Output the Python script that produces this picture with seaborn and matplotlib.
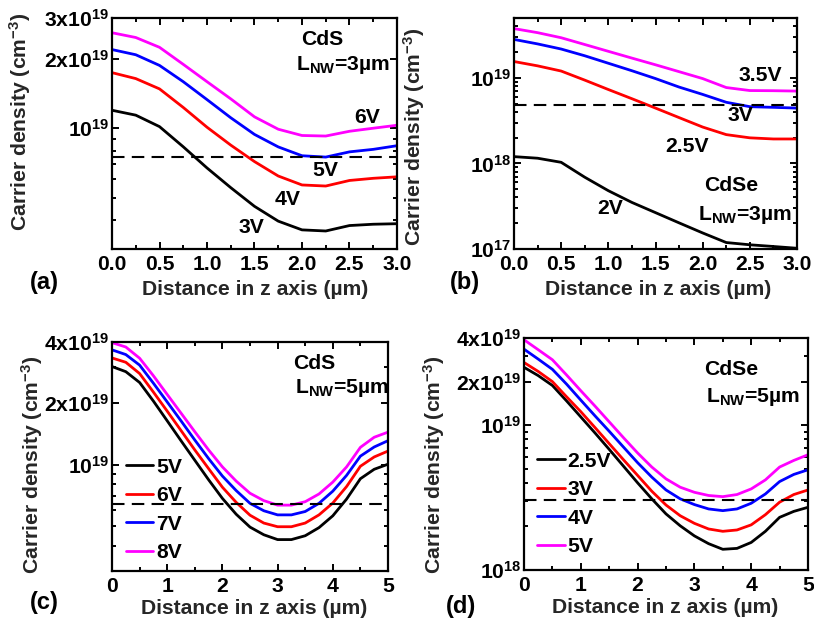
import numpy as np
import pandas as pd
import matplotlib
matplotlib.use("Agg")
import matplotlib.pyplot as plt
import seaborn as sns
from matplotlib.ticker import (FixedLocator, FixedFormatter, LogLocator,
                               NullFormatter, MultipleLocator)

# ---------------------------------------------------------------------------
# Carrier density along the nanowire (values in units of 1e19 cm^-3)
# ---------------------------------------------------------------------------
# (a) CdS, L_NW = 3 um
z_a = [0.0, 0.25, 0.5, 0.75, 1.0, 1.25, 1.5, 1.75, 2.0, 2.25, 2.5, 2.75, 3.0]
bias_a = ["3V", "4V", "5V", "6V"]
n_a_3V = [1.196, 1.139, 1.016, 0.831, 0.673, 0.553, 0.459, 0.396, 0.363, 0.359, 0.379, 0.384, 0.386]
n_a_4V = [1.74, 1.64, 1.48, 1.23, 1.01, 0.845, 0.717, 0.621, 0.568, 0.562, 0.594, 0.607, 0.616]
n_a_5V = [2.19, 2.08, 1.87, 1.59, 1.33, 1.11, 0.94, 0.83, 0.76, 0.75, 0.79, 0.81, 0.84]
n_a_6V = [2.59, 2.47, 2.24, 1.89, 1.59, 1.34, 1.12, 0.99, 0.93, 0.925, 0.97, 1.0, 1.03]
thr_a = 0.75

# (b) CdSe, L_NW = 3 um
z_b = [0.0, 0.25, 0.5, 0.75, 1.0, 1.25, 1.5, 1.75, 2.0, 2.25, 2.5, 2.75, 3.0]
bias_b = ["2V", "2.5V", "3V", "3.5V"]
n_b_2V = [0.120, 0.115, 0.103, 0.069, 0.048, 0.035, 0.0266, 0.0202, 0.0154, 0.0119, 0.0112, 0.0107, 0.0102]
n_b_25V = [1.55, 1.38, 1.20, 0.94, 0.73, 0.57, 0.443, 0.343, 0.266, 0.217, 0.199, 0.193, 0.193]
n_b_3V = [2.81, 2.49, 2.17, 1.81, 1.48, 1.21, 0.98, 0.78, 0.64, 0.518, 0.46, 0.452, 0.443]
n_b_35V = [3.76, 3.37, 2.94, 2.45, 2.04, 1.70, 1.42, 1.18, 0.98, 0.77, 0.71, 0.707, 0.70]
thr_b = 0.48

# (c) CdS, L_NW = 5 um
z_c = [0.0, 0.25, 0.5, 0.75, 1.0, 1.25, 1.5, 1.75, 2.0, 2.25, 2.5,
       2.75, 3.0, 3.25, 3.5, 3.75, 4.0, 4.25, 4.5, 4.75, 5.0]
bias_c = ["5V", "6V", "7V", "8V"]
n_c_5V = [3.03, 2.86, 2.53, 2.05, 1.64, 1.31, 1.05, 0.842, 0.682, 0.570, 0.493,
          0.452, 0.428, 0.428, 0.447, 0.490, 0.560, 0.677, 0.852, 0.948, 1.004]
n_c_6V = [3.34, 3.18, 2.80, 2.27, 1.83, 1.47, 1.18, 0.955, 0.774, 0.652, 0.564,
          0.516, 0.495, 0.495, 0.516, 0.566, 0.647, 0.780, 0.981, 1.09, 1.165]
n_c_7V = [3.66, 3.47, 3.08, 2.51, 2.03, 1.64, 1.32, 1.07, 0.878, 0.745, 0.645,
          0.593, 0.566, 0.566, 0.588, 0.645, 0.740, 0.885, 1.10, 1.22, 1.31]
n_c_8V = [3.97, 3.78, 3.33, 2.73, 2.21, 1.79, 1.45, 1.18, 0.974, 0.829, 0.723,
          0.665, 0.632, 0.632, 0.657, 0.717, 0.820, 0.974, 1.215, 1.362, 1.443]
thr_c = 0.64

# (d) CdSe, L_NW = 5 um
z_d = [0.0, 0.25, 0.5, 0.75, 1.0, 1.25, 1.5, 1.75, 2.0, 2.25, 2.5,
       2.75, 3.0, 3.25, 3.5, 3.75, 4.0, 4.25, 4.5, 4.75, 5.0]
bias_d = ["2.5V", "3V", "4V", "5V"]
n_d_25V = [2.51, 2.20, 1.88, 1.47, 1.14, 0.884, 0.681, 0.522, 0.400, 0.310, 0.244,
           0.202, 0.172, 0.152, 0.139, 0.141, 0.155, 0.185, 0.231, 0.254, 0.271]
n_d_3V = [2.71, 2.35, 2.00, 1.57, 1.24, 0.963, 0.746, 0.578, 0.450, 0.350, 0.281,
          0.237, 0.210, 0.192, 0.185, 0.189, 0.205, 0.241, 0.294, 0.332, 0.357]
n_d_4V = [3.35, 2.86, 2.43, 1.92, 1.49, 1.16, 0.908, 0.707, 0.551, 0.438, 0.357,
          0.310, 0.283, 0.264, 0.257, 0.264, 0.289, 0.335, 0.408, 0.457, 0.492]
n_d_5V = [3.89, 3.32, 2.83, 2.22, 1.73, 1.355, 1.055, 0.821, 0.643, 0.514, 0.426,
          0.373, 0.344, 0.327, 0.321, 0.332, 0.363, 0.419, 0.514, 0.571, 0.625]
thr_d = 0.305

UNIT = 1e19
colors = ["#000000", "#ff0000", "#0000ff", "#ff00ff"]
FS = 15.2

sns.set_theme(style="ticks")
plt.rcParams.update({
    "font.family": ["Liberation Sans", "DejaVu Sans"],
    "font.weight": "bold",
    "font.size": FS,
    "mathtext.fontset": "custom",
    "mathtext.rm": "Liberation Sans:bold",
    "mathtext.it": "Liberation Sans:bold",
    "mathtext.bf": "Liberation Sans:bold",
    "mathtext.default": "rm",
    "axes.linewidth": 1.6,
    "axes.edgecolor": "black",
    "text.color": "black",
    "xtick.color": "black",
    "ytick.color": "black",
})

W, H = 814, 637
fig = plt.figure(figsize=(W / 100, H / 100), dpi=100)


def panel(left, top, right, bottom):
    return fig.add_axes([left / W, 1 - bottom / H, (right - left) / W, (bottom - top) / H])


def long_frame(z, labels, series):
    rows = []
    for lab, vals in zip(labels, series):
        for zi, v in zip(z, vals):
            rows.append({"z": zi, "n": v * UNIT, "bias": lab})
    return pd.DataFrame(rows)


def draw(ax, z, labels, series, thr, xlim, ylim, yticks, yticklabels, xmajor, xminor, xfmt):
    df = long_frame(z, labels, series)
    sns.lineplot(data=df, x="z", y="n", hue="bias", hue_order=labels,
                 palette=colors, lw=2.0, legend=False, ax=ax, sort=False)
    ax.axhline(thr * UNIT, color="black", lw=1.5, dashes=(6, 3.5))
    ax.set_yscale("log")
    ax.set_xlim(*xlim)
    ax.set_ylim(*ylim)
    ax.yaxis.set_major_locator(FixedLocator(yticks))
    ax.yaxis.set_major_formatter(FixedFormatter(yticklabels))
    ax.yaxis.set_minor_locator(LogLocator(base=10, subs=np.arange(2, 10), numticks=20))
    ax.yaxis.set_minor_formatter(NullFormatter())
    ax.xaxis.set_major_locator(MultipleLocator(xmajor))
    ax.xaxis.set_minor_locator(MultipleLocator(xminor))
    ax.xaxis.set_major_formatter(plt.FuncFormatter(lambda v, p: xfmt.format(v)))
    ax.tick_params(which="both", direction="in", top=True, right=True, width=1.4,
                   labelsize=FS)
    ax.tick_params(which="major", length=5)
    ax.tick_params(axis="y", which="major", pad=2)
    ax.tick_params(axis="x", which="major", pad=4)
    ax.tick_params(which="minor", length=3)
    ax.set_xlabel("Distance in z axis (\u00b5m)", fontsize=FS, fontweight="bold")
    ax.set_ylabel("Carrier density (cm$^{-3}$)", fontsize=FS, fontweight="bold")


def place_labels(ax, xl, yl):
    ax.xaxis.set_label_coords(*xl)
    ax.xaxis.label.set_va("center")
    ax.yaxis.set_label_coords(*yl)
    ax.yaxis.label.set_va("center")


def annotate(ax, items):
    for txt, fx, fy in items:
        ax.text(fx, fy, txt, transform=ax.transAxes, ha="center", va="center",
                fontsize=FS, fontweight="bold")


def tag(px, py, txt):
    fig.text(px / W, 1 - py / H, txt, ha="center", va="center", fontsize=17, fontweight="bold")


# (a)
ax_a = panel(112, 18, 397, 249)
draw(ax_a, z_a, bias_a, [n_a_3V, n_a_4V, n_a_5V, n_a_6V], thr_a,
     (0, 3), (3e18, 3e19), [1e19, 2e19, 3e19],
     ["10$^{19}$", "2x10$^{19}$", "3x10$^{19}$"], 0.5, 0.25, "{:.1f}")
place_labels(ax_a, (0.502, -0.177), (-0.323, 0.55))
annotate(ax_a, [("6V", 0.895, 0.571), ("5V", 0.747, 0.338),
                ("4V", 0.617, 0.216), ("3V", 0.491, 0.095),
                ("CdS", 0.737, 0.905), ("L$_{NW}$=3\u00b5m", 0.812, 0.797)])
tag(44, 283, "(a)")

# (b)
ax_b = panel(514, 18, 797, 249)
draw(ax_b, z_b, bias_b, [n_b_2V, n_b_25V, n_b_3V, n_b_35V], thr_b,
     (0, 3), (1e17, 5e19), [1e17, 1e18, 1e19],
     ["10$^{17}$", "10$^{18}$", "10$^{19}$"], 0.5, 0.25, "{:.1f}")
place_labels(ax_b, (0.509, -0.177), (-0.353, 0.485))
annotate(ax_b, [("3.5V", 0.869, 0.749), ("3V", 0.802, 0.576),
                ("2.5V", 0.611, 0.442), ("2V", 0.339, 0.177),
                ("CdSe", 0.767, 0.277), ("L$_{NW}$=3\u00b5m", 0.817, 0.147)])
tag(465, 283, "(b)")

# (c)
ax_c = panel(112, 342, 388, 571)
draw(ax_c, z_c, bias_c, [n_c_5V, n_c_6V, n_c_7V, n_c_8V], thr_c,
     (0, 5), (3e18, 4e19), [1e19, 2e19, 4e19],
     ["10$^{19}$", "2x10$^{19}$", "4x10$^{19}$"], 1, 0.5, "{:.0f}")
place_labels(ax_c, (0.514, -0.162), (-0.29, 0.463))
annotate(ax_c, [("CdS", 0.732, 0.908), ("L$_{NW}$=5\u00b5m", 0.833, 0.799)])
ax_c.legend(ax_c.lines[:4], bias_c, loc="upper left", bbox_to_anchor=(0.05, 0.495),
            frameon=False, borderpad=0, borderaxespad=0, handlelength=1.3,
            handletextpad=0.15, labelspacing=0.45,
            prop={"weight": "bold", "size": FS})
tag(44, 603, "(c)")

# (d)
ax_d = panel(524, 338, 808, 570)
draw(ax_d, z_d, bias_d, [n_d_25V, n_d_3V, n_d_4V, n_d_5V], thr_d,
     (0, 5), (1e18, 4e19), [1e18, 1e19, 2e19, 4e19],
     ["10$^{18}$", "10$^{19}$", "2x10$^{19}$", "4x10$^{19}$"], 1, 0.5, "{:.0f}")
place_labels(ax_d, (0.496, -0.16), (-0.317, 0.453))
annotate(ax_d, [("CdSe", 0.729, 0.866), ("L$_{NW}$=5\u00b5m", 0.806, 0.745)])
ax_d.legend(ax_d.lines[:4], bias_d, loc="upper left", bbox_to_anchor=(0.046, 0.51),
            frameon=False, borderpad=0, borderaxespad=0, handlelength=1.3,
            handletextpad=0.15, labelspacing=0.45,
            prop={"weight": "bold", "size": FS})
tag(461, 607, "(d)")

fig.savefig("out.png", dpi=100)
